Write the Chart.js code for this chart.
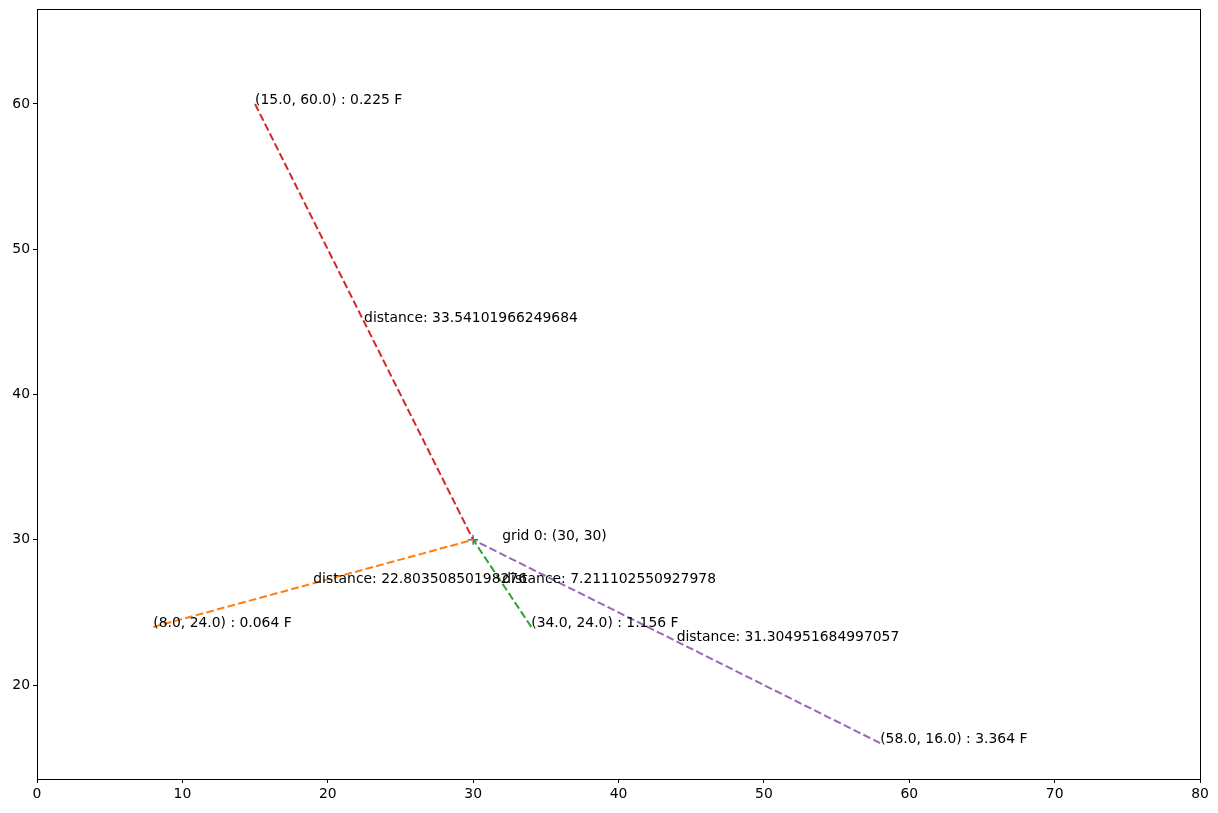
<!DOCTYPE html>
<html>
<head>
<meta charset="utf-8">
<script src="https://cdn.jsdelivr.net/npm/chart.js@4/dist/chart.umd.min.js"></script>
<style>
  body { margin: 0; background: #fff; }
  #wrap { width: 1218px; height: 813px; }
</style>
</head>
<body>
<div id="wrap"><canvas id="ctx" width="1218" height="813"></canvas></div>
<script>
// grid point and the sources around it
var gridPoint = [30, 30];
var gridName = 'grid 0';
var srcX = [8, 34, 15, 58];
var srcY = [24, 24, 60, 16];
var srcValue = ['0.064', '1.156', '0.225', '3.364'];
var srcDistance = ['22.80350850198276', '7.211102550927978', '33.54101966249684', '31.304951684997057'];
var xTicks = [0, 10, 20, 30, 40, 50, 60, 70, 80];
var yTicks = [20, 30, 40, 50, 60];

var lineColors = ['#ff7f0e', '#2ca02c', '#d62728', '#9467bd'];
var FONT = '13.9px "DejaVu Sans"';

var datasets = srcX.map(function (x, i) {
  return {
    data: [{ x: x, y: srcY[i] }, { x: gridPoint[0], y: gridPoint[1] }],
    showLine: true,
    borderColor: lineColors[i],
    borderWidth: 2,
    borderDash: [7.7, 3.3],
    pointRadius: 0,
    fill: false
  };
});
datasets.push({
  data: [{ x: gridPoint[0], y: gridPoint[1] }],
  pointStyle: 'cross',
  pointRadius: 5,
  borderColor: '#1f77b4',
  borderWidth: 1.4,
  showLine: false
});

// text annotations + axes frame
var annotate = {
  id: 'annotate',
  afterDatasetsDraw: function (chart) {
    var c = chart.ctx, xs = chart.scales.x, ys = chart.scales.y, a = chart.chartArea;
    c.save();
    c.font = FONT;
    c.fillStyle = '#000';
    c.textAlign = 'left';
    c.textBaseline = 'alphabetic';
    srcX.forEach(function (x, i) {
      var y = srcY[i];
      c.fillText('(' + x.toFixed(1) + ', ' + y.toFixed(1) + ') : ' + srcValue[i] + ' F',
        xs.getPixelForValue(x), ys.getPixelForValue(y));
      var mx = (x + gridPoint[0]) / 2, my = (y + gridPoint[1]) / 2;
      c.fillText('distance: ' + srcDistance[i], xs.getPixelForValue(mx), ys.getPixelForValue(my));
    });
    c.fillText(gridName + ': (' + gridPoint[0] + ', ' + gridPoint[1] + ')',
      xs.getPixelForValue(gridPoint[0] + 2), ys.getPixelForValue(gridPoint[1]));
    c.strokeStyle = '#000';
    c.lineWidth = 1;
    c.strokeRect(Math.round(a.left) + 0.5, Math.round(a.top) + 0.5,
      Math.round(a.right - a.left), Math.round(a.bottom - a.top));
    c.restore();
  }
};

new Chart(document.getElementById('ctx'), {
  type: 'scatter',
  data: { datasets: datasets },
  options: {
    responsive: false,
    animation: false,
    layout: { padding: { top: 9, right: 18, left: 0, bottom: 0 } },
    plugins: { legend: { display: false }, tooltip: { enabled: false } },
    scales: {
      x: {
        type: 'linear',
        min: 0,
        max: 80,
        afterFit: function (s) { s.height = 34; s.paddingLeft = 0; s.paddingRight = 0; },
        afterBuildTicks: function (s) { s.ticks = xTicks.map(function (v) { return { value: v }; }); },
        grid: { drawOnChartArea: false, drawTicks: true, tickLength: 4, color: '#000' },
        border: { display: false },
        ticks: { color: '#000', font: { family: 'DejaVu Sans', size: 13.9 }, padding: 3, maxRotation: 0 }
      },
      y: {
        type: 'linear',
        min: 13.53,
        max: 66.54,
        afterFit: function (s) { s.width = 37; s.paddingTop = 0; s.paddingBottom = 0; },
        afterBuildTicks: function (s) { s.ticks = yTicks.map(function (v) { return { value: v }; }); },
        grid: { drawOnChartArea: false, drawTicks: true, tickLength: 4, color: '#000' },
        border: { display: false },
        ticks: { color: '#000', font: { family: 'DejaVu Sans', size: 13.9 }, padding: 3 }
      }
    }
  },
  plugins: [annotate]
});
</script>
</body>
</html>
